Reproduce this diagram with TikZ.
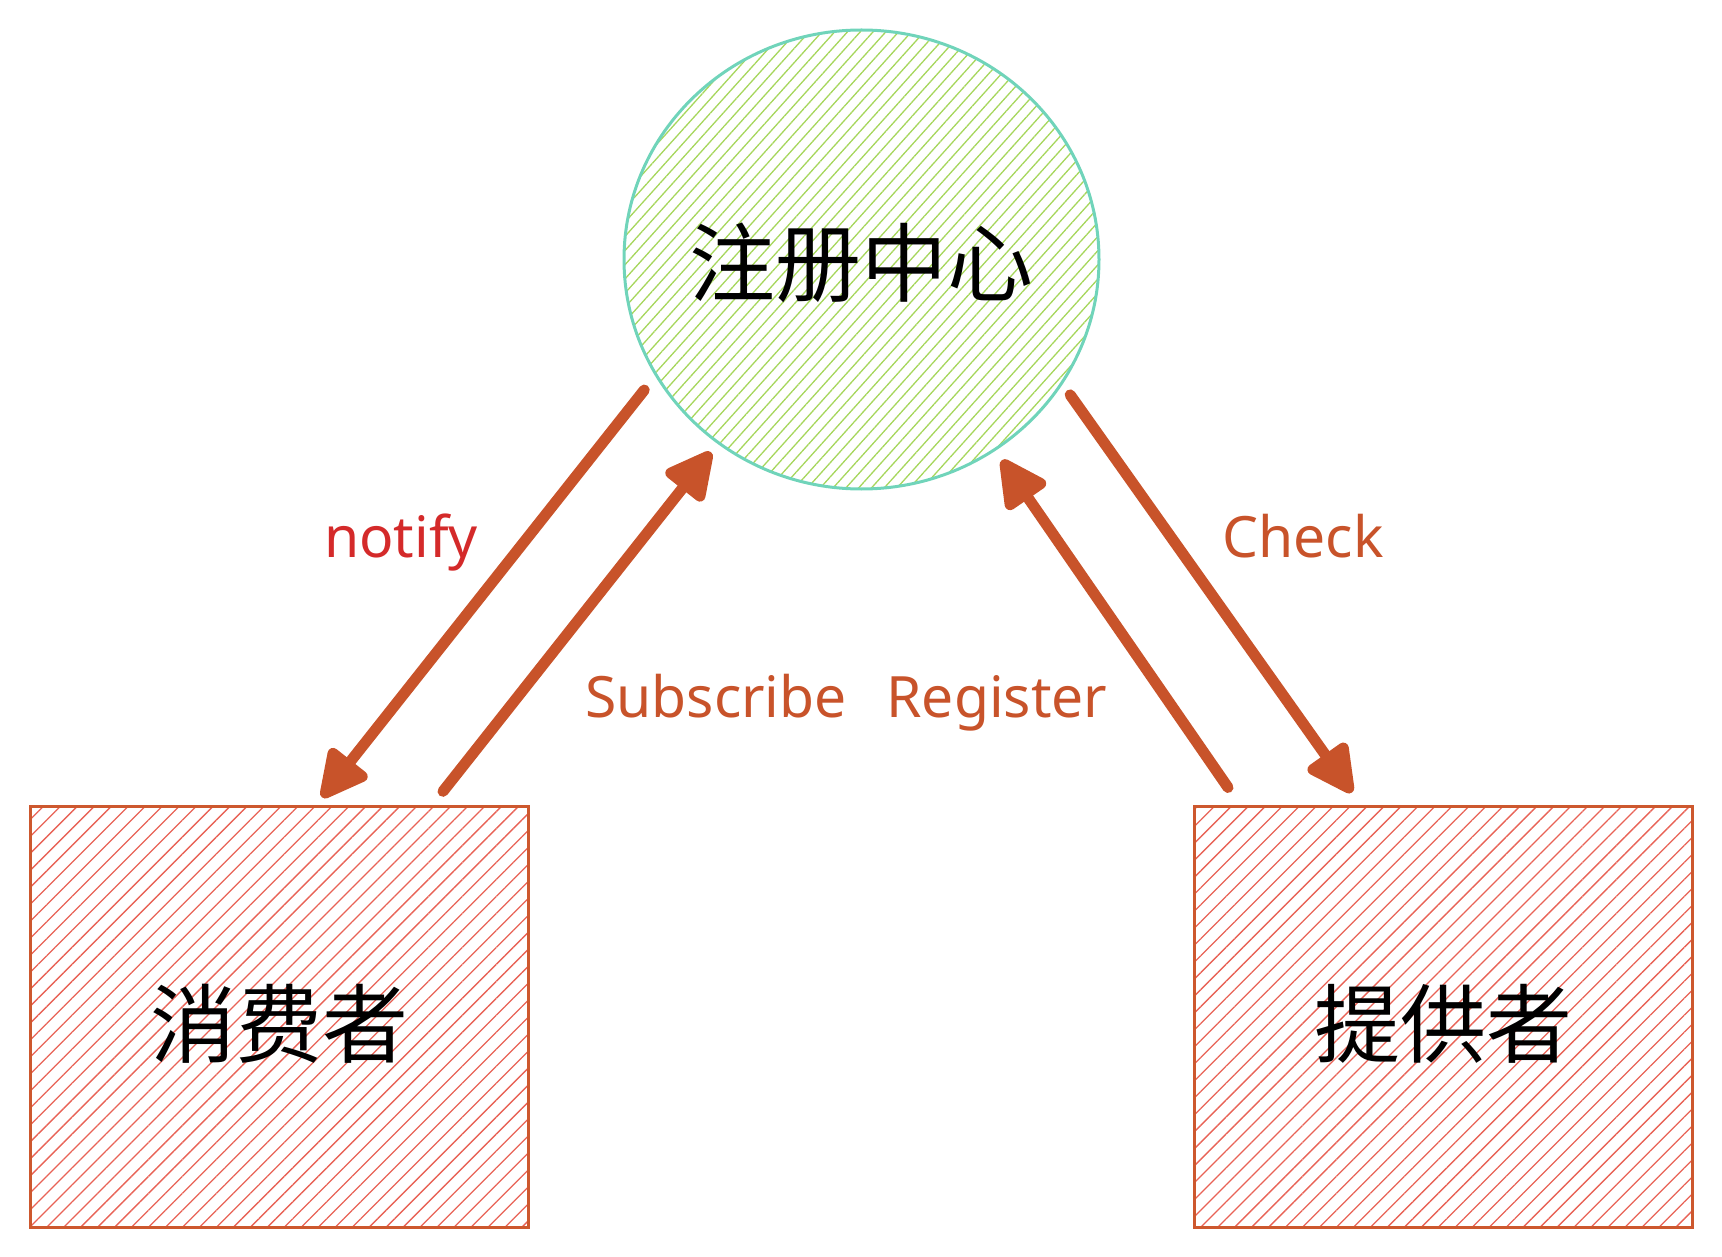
\documentclass[tikz,border=0pt]{standalone}
\usepackage{fontspec}
\setmainfont{Noto Sans}
\newfontfamily\cjk{Noto Sans CJK SC}
\usepackage{tikz}
\usetikzlibrary{calc}
\usetikzlibrary{shapes.geometric}
\usetikzlibrary{arrows.meta,patterns.meta}
\definecolor{regline}{RGB}{112,212,186}
\definecolor{reghatch}{RGB}{166,214,92}
\definecolor{boxline}{RGB}{205,88,46}
\definecolor{boxhatch}{RGB}{232,98,86}
\definecolor{flowc}{RGB}{200,83,42}
\definecolor{notifyc}{RGB}{212,42,42}
\tikzset{
  hubnode/.style={ellipse, draw=regline, line width=3pt, inner sep=-5pt,
    minimum width=475pt, minimum height=459pt, text height=80pt,
    pattern={Lines[angle=48,distance=9.5pt,line width=1.3pt]}, pattern color=reghatch,
    font=\cjk\fontsize{86}{86}\selectfont},
  partybox/.style={rectangle, draw=boxline, line width=3pt, inner sep=0pt,
    minimum width=498pt, minimum height=421pt, text height=87pt,
    pattern={Lines[angle=45,distance=12pt,line width=1.3pt]}, pattern color=boxhatch,
    font=\cjk\fontsize{86}{86}\selectfont},
  flow/.style={draw=flowc, line width=11pt, line cap=round,
    -{Triangle[length=54pt,width=52pt,round]}},
  flowlabel/.style={anchor=base, font=\fontsize{57}{68}\selectfont, text=flowc}
}

\begin{document}
\begin{tikzpicture}[x=1pt,y=-1pt]
        \useasboundingbox (0,0) rectangle (1722,1257);

        %nodes
        \node[hubnode] (reg) at (861.5,259.5) {注册中心};
        \node[partybox] (cons) at (279,1016.5) {消费者};
        \node[partybox] (prov) at (1443,1016.5) {提供者};

        %edges
        \draw[flow] ($(reg.211.6)+(-15,9)$) -- ($(cons.north)+(43,-8)$);
        \draw[flow] ($(cons.north)+(164,-14)$) -- ($(reg.232.5)+(-7,9)$);
        \draw[flow] ($(prov.north)+(-215,-17)$) -- ($(reg.305.9)+(7,10)$);
        \draw[flow] ($(reg.327.7)+(11,7)$) -- ($(prov.north)+(-91,-12)$);

        %labels
        \node[flowlabel, text=notifyc] (lnotify) at (401,557) {notify};
        \node[flowlabel] (lsub) at (716,717) {Subscribe};
        \node[flowlabel] (lreg) at (997,717) {Register};
        \node[flowlabel] (lcheck) at (1303,557) {Check};
\end{tikzpicture}
\end{document}
